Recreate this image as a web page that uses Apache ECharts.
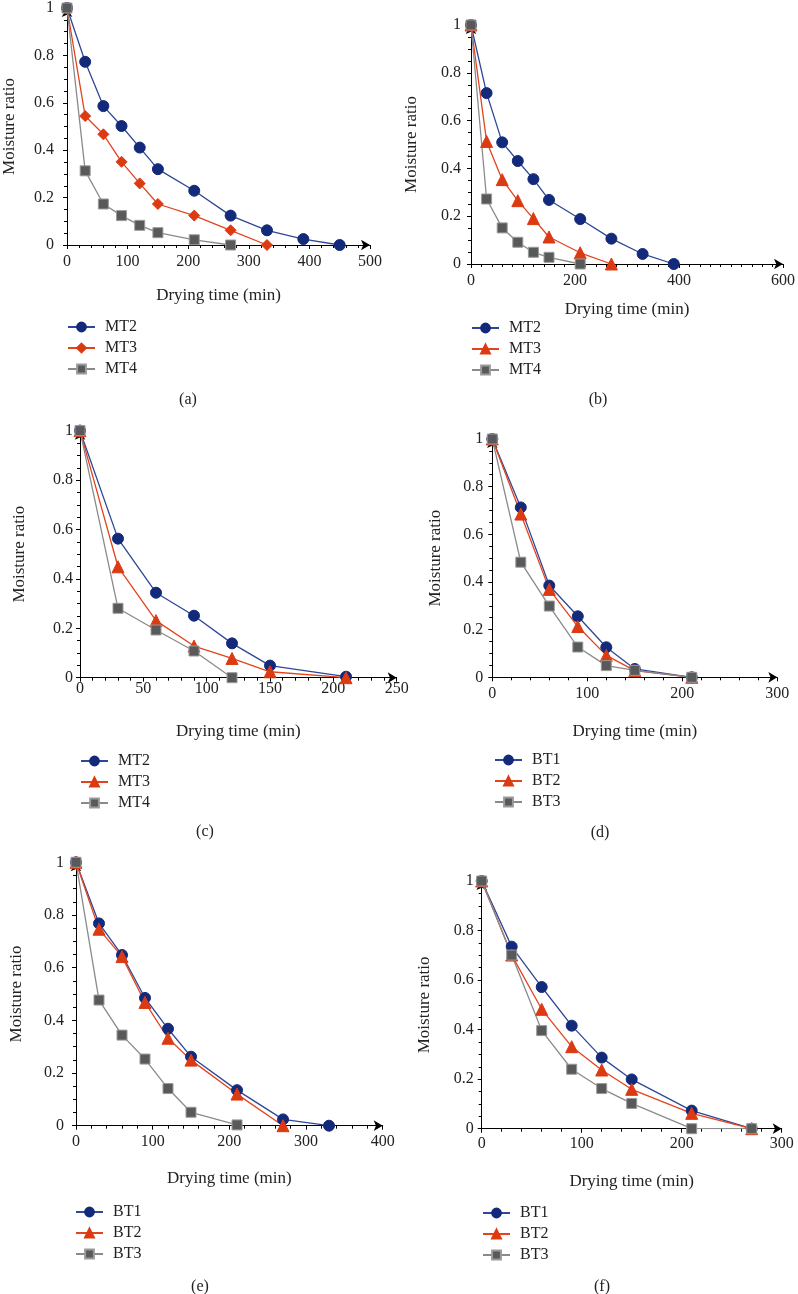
<!DOCTYPE html>
<html>
<head>
<meta charset="utf-8">
<title>Moisture ratio curves</title>
<script src="https://cdn.jsdelivr.net/npm/echarts@6/dist/echarts.min.js"></script>
<style>
	html, body { margin: 0; padding: 0; background: #fff; }
	#chart { width: 798px; height: 1294px; }
</style>
</head>
<body>
<div id="chart"></div>
<script>
// drying time (min), shared by every panel
const times = [0, 30, 60, 90, 120, 150, 210, 270, 330, 390, 450];

// (a)
const mt2A = [1, 0.773, 0.586, 0.502, 0.411, 0.32, 0.229, 0.124, 0.062, 0.025, 0];
const mt3A = [1, 0.544, 0.467, 0.351, 0.26, 0.173, 0.124, 0.062, 0];
const mt4A = [1, 0.313, 0.173, 0.124, 0.083, 0.052, 0.022, 0];
// (b)
const mt2B = [1, 0.715, 0.509, 0.431, 0.355, 0.268, 0.188, 0.106, 0.042, 0];
const mt3B = [1, 0.513, 0.353, 0.265, 0.19, 0.113, 0.047, 0];
const mt4B = [1, 0.272, 0.151, 0.091, 0.049, 0.028, 0];
// (c)
const mt2C = [1, 0.563, 0.344, 0.251, 0.139, 0.049, 0.004];
const mt3C = [1, 0.449, 0.231, 0.128, 0.078, 0.024, 0];
const mt4C = [1, 0.281, 0.193, 0.108, 0];
// (d)
const bt1D = [1, 0.713, 0.385, 0.256, 0.126, 0.035, 0];
const bt2D = [1, 0.685, 0.369, 0.213, 0.092, 0.028, 0];
const bt3D = [1, 0.483, 0.299, 0.127, 0.049, 0.029, 0];
// (e)
const bt1E = [1, 0.768, 0.648, 0.485, 0.368, 0.262, 0.135, 0.024, 0];
const bt2E = [1, 0.746, 0.642, 0.468, 0.332, 0.249, 0.12, 0];
const bt3E = [1, 0.477, 0.344, 0.253, 0.141, 0.051, 0.003];
// (f)
const bt1F = [1, 0.735, 0.572, 0.416, 0.287, 0.199, 0.073, 0];
const bt2F = [1, 0.701, 0.482, 0.331, 0.237, 0.159, 0.062, 0];
const bt3F = [1, 0.701, 0.396, 0.24, 0.162, 0.102, 0, 0];

// axis ranges of each panel
const xMaxes = [500, 600, 250, 300, 400, 300];
const xSteps = [100, 200, 50, 100, 100, 100];
const xMinorSplits = [5, 10, 5, 5, 5, 5];
const yTicks = [0, 0.2, 0.4, 0.6, 0.8, 1];
const panelLabels = ['(a)', '(b)', '(c)', '(d)', '(e)', '(f)'];
const mtNames = ['MT2', 'MT3', 'MT4'];
const btNames = ['BT1', 'BT2', 'BT3'];

(function() {
	let myChart = echarts.init(document.getElementById('chart'));
	const font = '"Liberation Serif", "DejaVu Serif", serif';

	// panel layout: grid box, legend box, label position, title gaps
	const layout = [
		{ l: 67, t: 6.5, r: 370, b: 245, lgX: 67, lgY: 319, lbX: 188, lbY: 400, xGap: 42, yGap: 49, xM: 9, yM: 13 },
		{ l: 471, t: 25, r: 784, b: 264, lgX: 471, lgY: 320, lbX: 598, lbY: 400, xGap: 37, yGap: 51, xM: 9, yM: 10 },
		{ l: 80, t: 430.7, r: 396.7, b: 677.7, lgX: 80, lgY: 753, lbX: 205, lbY: 832, xGap: 45, yGap: 52, xM: 3, yM: 7 },
		{ l: 492.3, t: 439, r: 777.3, b: 677.3, lgX: 494, lgY: 752, lbX: 600, lbY: 833, xGap: 46, yGap: 48, xM: 8, yM: 9 },
		{ l: 76, t: 862.3, r: 382.7, b: 1125.7, lgX: 75, lgY: 1204, lbX: 200, lbY: 1287, xGap: 44, yGap: 51, xM: 8, yM: 12 },
		{ l: 481.7, t: 881, r: 781.7, b: 1128.7, lgX: 482, lgY: 1205, lbX: 602, lbY: 1287, xGap: 44, yGap: 49, xM: 7, yM: 8 }
	];

	const panelData = [
		[mt2A, mt3A, mt4A],
		[mt2B, mt3B, mt4B],
		[mt2C, mt3C, mt4C],
		[bt1D, bt2D, bt3D],
		[bt1E, bt2E, bt3E],
		[bt1F, bt2F, bt3F]
	];

	// blue circles, red diamond/triangle, grey squares
	const lineColors = ['#2e4796', '#e5431d', '#8a8a8a'];
	const markColors = ['#13297a', '#dc3a12', '#58595b'];
	const borderColors = ['#13297a', '#dc3a12', '#9a9a9a'];

	let grids = [], xAxes = [], yAxes = [], series = [], legends = [], graphics = [];

	layout.forEach(function(p, i) {
		grids.push({ left: p.l, top: p.t, width: p.r - p.l, height: p.b - p.t });

		let axisCommon = {
			axisLine: { show: true, symbol: ['none', 'arrow'], symbolSize: [8, 9], lineStyle: { color: '#000', width: 1 } },
			axisTick: { show: true, length: 4, lineStyle: { color: '#000' } },
			minorTick: { show: true, length: 3, lineStyle: { color: '#000' } },
			splitLine: { show: false },
			nameTextStyle: { fontFamily: font, fontSize: 17, color: '#222' }
		};

		xAxes.push(Object.assign({}, axisCommon, {
			type: 'value',
			gridIndex: i,
			min: 0,
			max: xMaxes[i],
			interval: xSteps[i],
			minorTick: Object.assign({}, axisCommon.minorTick, { splitNumber: xMinorSplits[i] }),
			name: 'Drying time (min)',
			nameLocation: 'middle',
			nameGap: p.xGap,
			axisLabel: { fontFamily: font, fontSize: 16, color: '#222', margin: p.xM }
		}));

		yAxes.push(Object.assign({}, axisCommon, {
			type: 'value',
			gridIndex: i,
			min: yTicks[0],
			max: yTicks[yTicks.length - 1],
			interval: 0.2,
			minorTick: Object.assign({}, axisCommon.minorTick, { splitNumber: 4 }),
			name: 'Moisture ratio',
			nameLocation: 'middle',
			nameRotate: 90,
			nameGap: p.yGap,
			axisLabel: { fontFamily: font, fontSize: 16, color: '#222', margin: p.yM }
		}));

		// series names carry the panel letter so each legend finds its own marker
		let names = (i < 3 ? mtNames : btNames).map(function(n) { return n + '_' + i; });
		let symbols = ['circle', i === 0 ? 'diamond' : 'triangle', 'rect'];
		let sizes = [11, i === 0 ? 11 : 12, 10];

		panelData[i].forEach(function(vals, k) {
			series.push({
				name: names[k],
				type: 'line',
				xAxisIndex: i,
				yAxisIndex: i,
				symbol: symbols[k],
				symbolSize: sizes[k],
				showAllSymbol: true,
				lineStyle: { color: lineColors[k], width: 1.3 },
				itemStyle: { color: markColors[k], borderColor: borderColors[k], borderWidth: 1 },
				data: vals.map(function(v, j) { return [times[j], v]; })
			});
		});

		legends.push({
			orient: 'vertical',
			left: p.lgX,
			top: p.lgY,
			itemWidth: 27,
			itemHeight: 11,
			itemGap: 5,
			padding: 0,
			selectedMode: false,
			formatter: function(name) { return name.split('_')[0]; },
			textStyle: { fontFamily: font, fontSize: 16, color: '#222', padding: [0, 0, 0, 5] },
			data: names
		});

		graphics.push({
			type: 'text',
			x: p.lbX,
			y: p.lbY,
			style: { text: panelLabels[i], font: '16px ' + font, fill: '#222', textAlign: 'center', textVerticalAlign: 'middle' }
		});
	});

	let option = {
		animation: false,
		grid: grids,
		xAxis: xAxes,
		yAxis: yAxes,
		legend: legends,
		graphic: graphics,
		series: series
	};

	myChart.setOption(option);

	window.addEventListener('resize', function() {
		myChart.resize();
	})
})();
</script>
</body>
</html>
